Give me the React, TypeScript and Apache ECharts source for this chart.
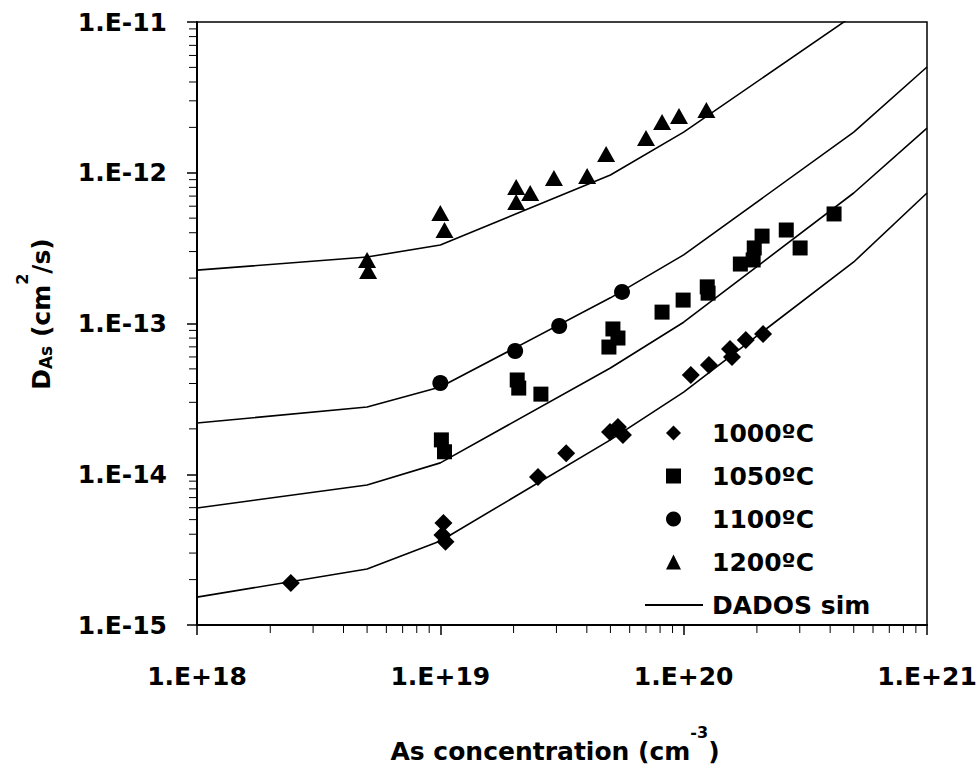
import React, { useEffect, useRef } from 'react';
import * as echarts from 'echarts';

// ---- Data ----
const X_MIN = 1e18;
const X_MAX = 1e21;
const Y_MIN = 1e-15;
const Y_MAX = 1e-11;

// DADOS simulation curves (breakpoints on the concentration axis)
const simX = [1e18, 5e18, 1e19, 5e19, 1e20, 5e20, 1e21];
const sim1000 = [1.53e-15, 2.35e-15, 3.61e-15, 1.69e-14, 3.51e-14, 2.56e-13, 7.34e-13];
const sim1050 = [5.97e-15, 8.49e-15, 1.19e-14, 5.07e-14, 1.02e-13, 7.34e-13, 1.98e-12];
const sim1100 = [2.19e-14, 2.79e-14, 3.79e-14, 1.48e-13, 2.85e-13, 1.86e-12, 5.03e-12];
const sim1200 = [2.26e-13, 2.76e-13, 3.32e-13, 9.66e-13, 1.86e-12, 1.11e-11, 3.0e-11];

// Measured points [concentration, D]
const d1000 = [
  [2.43e18, 1.9e-15], [1.03e19, 4.75e-15], [1.02e19, 3.95e-15], [1.05e19, 3.56e-15],
  [2.52e19, 9.59e-15], [3.29e19, 1.38e-14], [4.98e19, 1.91e-14], [5.37e19, 2.06e-14],
  [5.63e19, 1.82e-14], [1.07e20, 4.55e-14], [1.27e20, 5.31e-14], [1.55e20, 6.78e-14],
  [1.58e20, 6.0e-14], [1.8e20, 7.78e-14], [2.12e20, 8.51e-14],
];
const d1050 = [
  [1.01e19, 1.69e-14], [1.04e19, 1.41e-14], [2.07e19, 4.22e-14], [2.1e19, 3.73e-14],
  [2.59e19, 3.4e-14], [4.93e19, 6.98e-14], [5.12e19, 9.2e-14], [5.37e19, 8.01e-14],
  [8.15e19, 1.19e-13], [9.95e19, 1.43e-13], [1.25e20, 1.75e-13], [1.26e20, 1.59e-13],
  [1.71e20, 2.48e-13], [1.93e20, 2.64e-13], [1.95e20, 3.17e-13], [2.1e20, 3.8e-13],
  [2.64e20, 4.17e-13], [3.01e20, 3.17e-13], [4.15e20, 5.33e-13],
];
const d1100 = [
  [1.0e19, 4.03e-14], [2.03e19, 6.57e-14], [3.08e19, 9.62e-14], [5.58e19, 1.62e-13],
];
const d1200 = [
  [5.0e18, 2.64e-13], [5.05e18, 2.23e-13], [1.0e19, 5.41e-13], [1.04e19, 4.17e-13],
  [2.05e19, 8.04e-13], [2.05e19, 6.39e-13], [2.34e19, 7.34e-13], [2.93e19, 9.23e-13],
  [4.01e19, 9.51e-13], [4.8e19, 1.33e-12], [7.0e19, 1.7e-12], [8.15e19, 2.17e-12],
  [9.57e19, 2.38e-12], [1.24e20, 2.61e-12],
];

const seriesNames = ['1000ºC', '1050ºC', '1100ºC', '1200ºC'];
const simName = 'DADOS sim';

// log-axis minor tick decades / multipliers
const X_DECADES = [18, 19, 20];
const Y_DECADES = [-15, -14, -13, -12];
const MINOR_MULTS = [2, 3, 4, 5, 6, 7, 8, 9];

function expLabel(v: number) {
  const e = Math.round(Math.log10(v));
  return e >= 0 ? `1.E+${e}` : `1.E-${-e}`;
}

export default function App() {
  const ref = useRef<HTMLDivElement>(null);

  useEffect(() => {
    document.body.style.margin = '0';
    const chart = echarts.init(ref.current!, null, { renderer: 'svg' });
    const font = 'DejaVu Sans';

    const xMinor: number[][] = [];
    X_DECADES.forEach((e) => MINOR_MULTS.forEach((k) => xMinor.push([k * Math.pow(10, e), Y_MIN])));
    const yMinor: number[][] = [];
    Y_DECADES.forEach((e) => MINOR_MULTS.forEach((k) => yMinor.push([X_MIN, k * Math.pow(10, e)])));

    const simLine = (vals: number[]) => ({
      name: simName,
      type: 'line',
      data: simX.map((x, i) => [x, vals[i]]),
      symbol: 'none',
      lineStyle: { color: '#000', width: 1.6 },
      itemStyle: { color: '#000' },
      clip: true,
      z: 2,
    });

    const scatter = (name: string, data: number[][], symbol: string, size: number | number[]) => ({
      name,
      type: 'scatter',
      data,
      symbol,
      symbolSize: size,
      itemStyle: { color: '#000', opacity: 1 },
      z: 3,
    });

    const rich = {
      m: { fontSize: 25, fontWeight: 'bold', fontFamily: font, lineHeight: 30, verticalAlign: 'bottom', fill: '#000' },
      s: { fontSize: 17, fontWeight: 'bold', fontFamily: font, lineHeight: 20, verticalAlign: 'bottom', fill: '#000' },
      p: { fontSize: 16, fontWeight: 'bold', fontFamily: font, lineHeight: 16, padding: [0, 0, 24, 0], verticalAlign: 'bottom', fill: '#000' },
    };

    const legendText = (pad: number) => ({
      fontSize: 25,
      fontWeight: 'bold',
      fontFamily: font,
      color: '#000',
      lineHeight: 30,
      padding: [0, 0, 0, pad],
    });

    chart.setOption({
      animation: false,
      backgroundColor: '#fff',
      textStyle: { fontFamily: font },
      grid: {
        left: 197,
        top: 22,
        right: 53,
        bottom: 151,
        show: true,
        borderColor: '#000',
        borderWidth: 1.5,
        backgroundColor: 'transparent',
      },
      xAxis: {
        type: 'log',
        logBase: 10,
        min: X_MIN,
        max: X_MAX,
        axisLine: { show: true, lineStyle: { color: '#000', width: 2 } },
        axisTick: { show: true, length: 10, lineStyle: { color: '#000', width: 1.5 } },
        splitLine: { show: false },
        minorTick: { show: false },
        axisLabel: {
          formatter: expLabel,
          fontSize: 25,
          fontWeight: 'bold',
          fontFamily: font,
          color: '#000',
          margin: 39,
          showMinLabel: true,
          showMaxLabel: true,
        },
      },
      yAxis: {
        type: 'log',
        logBase: 10,
        min: Y_MIN,
        max: Y_MAX,
        axisLine: { show: true, lineStyle: { color: '#000', width: 2 } },
        axisTick: { show: true, length: 10, lineStyle: { color: '#000', width: 1.5 } },
        splitLine: { show: false },
        minorTick: { show: false },
        axisLabel: {
          formatter: expLabel,
          fontSize: 25,
          fontWeight: 'bold',
          fontFamily: font,
          color: '#000',
          margin: 30,
          showMinLabel: true,
          showMaxLabel: true,
        },
      },
      legend: [
        {
          orient: 'vertical',
          left: 666,
          top: 418,
          padding: 0,
          itemWidth: 15,
          itemHeight: 15,
          itemGap: 13,
          selectedMode: false,
          data: seriesNames,
          textStyle: legendText(26),
        },
        {
          orient: 'vertical',
          left: 645,
          top: 590,
          padding: 0,
          itemWidth: 58,
          itemHeight: 2,
          selectedMode: false,
          data: [{ name: simName, icon: 'rect' }],
          itemStyle: { color: '#000' },
          textStyle: legendText(4),
        },
      ],
      graphic: [
        {
          type: 'text',
          x: 39,
          y: 314,
          rotation: Math.PI / 2,
          style: {
            text: '{m|D}{s|As}{m| (cm}{p|2}{m|/s)}',
            rich,
            align: 'center',
            verticalAlign: 'middle',
          },
        },
        {
          type: 'text',
          x: 555,
          y: 749,
          style: {
            text: '{m|As concentration (cm}{p|-3}{m|)}',
            rich,
            align: 'center',
            verticalAlign: 'middle',
          },
        },
      ],
      series: [
        simLine(sim1000),
        simLine(sim1050),
        simLine(sim1100),
        simLine(sim1200),
        scatter(seriesNames[0], d1000, 'diamond', 18),
        scatter(seriesNames[1], d1050, 'rect', 15),
        scatter(seriesNames[2], d1100, 'circle', 16),
        scatter(seriesNames[3], d1200, 'triangle', [18, 16]),
        {
          type: 'custom',
          coordinateSystem: 'cartesian2d',
          silent: true,
          clip: false,
          data: xMinor,
          encode: { x: 0, y: 1 },
          z: 5,
          renderItem: (_p: any, api: any) => {
            const pt = api.coord([api.value(0), api.value(1)]);
            return {
              type: 'line',
              shape: { x1: pt[0], y1: pt[1], x2: pt[0], y2: pt[1] + 8 },
              style: { stroke: '#000', lineWidth: 1 },
            };
          },
        },
        {
          type: 'custom',
          coordinateSystem: 'cartesian2d',
          silent: true,
          clip: false,
          data: yMinor,
          encode: { x: 0, y: 1 },
          z: 5,
          renderItem: (_p: any, api: any) => {
            const pt = api.coord([api.value(0), api.value(1)]);
            return {
              type: 'line',
              shape: { x1: pt[0] - 8, y1: pt[1], x2: pt[0], y2: pt[1] },
              style: { stroke: '#000', lineWidth: 1 },
            };
          },
        },
      ],
    });

    return () => chart.dispose();
  }, []);

  return <div ref={ref} style={{ width: 980, height: 776 }} />;
}
